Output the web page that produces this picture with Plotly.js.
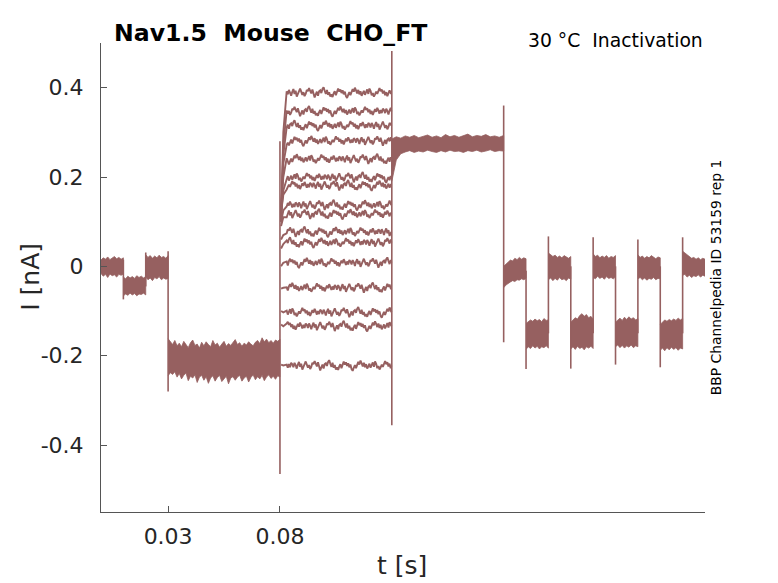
<!DOCTYPE html>
<html>
<head>
<meta charset="utf-8">
<script src="https://cdn.plot.ly/plotly-3.0.1.min.js"></script>
<style>
  html, body { margin: 0; padding: 0; background: #fff; }
  #chart { width: 778px; height: 583px; }
</style>
</head>
<body>
<div id="chart"></div>
<script>
// цвет всех записей
const traceColor = 'rgb(150,96,96)';

// моменты переключения протокола, с, и емкостные выбросы на них, нА
const stepTimes = [0.01, 0.02, 0.03, 0.08, 0.13, 0.18, 0.19, 0.2, 0.21, 0.22, 0.23, 0.24, 0.25, 0.26];
const spikeHi = [0.015, 0.031, 0.034, 0.28, 0.482, 0.36, -0.01, 0.067, 0.0, 0.065, 0.0, 0.06, 0.0, 0.065];
const spikeLo = [-0.074, -0.045, -0.28, -0.465, -0.356, -0.17, -0.23, -0.15, -0.229, -0.15, -0.22, -0.15, -0.226, -0.15];

// участки, где все записи совпадают: начало, конец, верхний и нижний край полосы шума
const holdStart = [0, 0.01, 0.02, 0.03, 0.13, 0.18, 0.19, 0.2, 0.21, 0.22, 0.23, 0.24, 0.25, 0.26];
const holdEnd = [0.01, 0.02, 0.03, 0.08, 0.18, 0.19, 0.2, 0.21, 0.22, 0.23, 0.24, 0.25, 0.26, 0.27];
const holdHi = [
  [0.014, 0.019, 0.016, 0.021, 0.015, 0.018, 0.022, 0.017, 0.02, 0.016, 0.019],
  [-0.024, -0.028, -0.022, -0.026, -0.023, -0.027, -0.021, -0.025, -0.022, -0.026, -0.023],
  [0.026, 0.02, 0.024, 0.018, 0.023, 0.019, 0.025, 0.02, 0.022, 0.018, 0.024],
  [-0.162, -0.17, -0.175, -0.166, -0.178, -0.172, -0.18, -0.168, -0.176, -0.182,
   -0.171, -0.165, -0.177, -0.174, -0.183, -0.17, -0.178, -0.169, -0.175, -0.18,
   -0.166, -0.176, -0.172, -0.181, -0.174, -0.168, -0.179, -0.173, -0.177, -0.17,
   -0.164, -0.175, -0.171, -0.179, -0.172, -0.176, -0.169, -0.174, -0.178, -0.17,
   -0.166, -0.173, -0.16, -0.169, -0.163, -0.171, -0.166, -0.172, -0.165, -0.168, -0.163],
  [0.285, 0.29, 0.287, 0.292, 0.289, 0.293, 0.288, 0.291, 0.294, 0.289, 0.292, 0.288, 0.295,
   0.29, 0.293, 0.289, 0.292, 0.296, 0.29, 0.293, 0.291, 0.295, 0.29, 0.292, 0.289, 0.293],
  [0.0, 0.005, 0.01, 0.014, 0.012, 0.018, 0.015, 0.02, 0.016, 0.019, 0.017],
  [-0.128, -0.124, -0.12, -0.123, -0.118, -0.122, -0.119, -0.124, -0.117, -0.121, -0.12],
  [0.03, 0.026, 0.022, 0.025, 0.02, 0.023, 0.019, 0.024, 0.021, 0.018, 0.022],
  [-0.125, -0.12, -0.115, -0.118, -0.11, -0.106, -0.112, -0.108, -0.115, -0.112, -0.118],
  [0.028, 0.022, 0.025, 0.019, 0.023, 0.02, 0.024, 0.018, 0.022, 0.02, 0.024],
  [-0.125, -0.12, -0.116, -0.121, -0.114, -0.119, -0.113, -0.118, -0.115, -0.12, -0.117],
  [0.026, 0.02, 0.023, 0.018, 0.022, 0.019, 0.024, 0.02, 0.017, 0.021, 0.019],
  [-0.13, -0.124, -0.12, -0.123, -0.119, -0.122, -0.118, -0.121, -0.116, -0.12, -0.117],
  [0.034, 0.03, 0.024, 0.021, 0.018, 0.02, 0.016, 0.019, 0.015, 0.018, 0.016]
];
const holdLo = [
  [-0.016, -0.022, -0.018, -0.025, -0.017, -0.021, -0.019, -0.024, -0.018, -0.02, -0.017],
  [-0.066, -0.062, -0.065, -0.06, -0.064, -0.061, -0.066, -0.062, -0.063, -0.06, -0.064],
  [-0.024, -0.03, -0.026, -0.032, -0.025, -0.028, -0.023, -0.03, -0.026, -0.029, -0.027],
  [-0.245, -0.238, -0.242, -0.236, -0.248, -0.24, -0.252, -0.244, -0.239, -0.256,
   -0.246, -0.25, -0.243, -0.26, -0.248, -0.244, -0.255, -0.247, -0.262, -0.25,
   -0.245, -0.257, -0.249, -0.244, -0.258, -0.251, -0.246, -0.263, -0.25, -0.247,
   -0.255, -0.248, -0.244, -0.257, -0.25, -0.246, -0.259, -0.249, -0.243, -0.254,
   -0.247, -0.252, -0.244, -0.256, -0.248, -0.243, -0.251, -0.246, -0.253, -0.245, -0.248],
  [0.19, 0.238, 0.252, 0.256, 0.259, 0.255, 0.258, 0.256, 0.26, 0.257, 0.255, 0.259, 0.256,
   0.26, 0.257, 0.258, 0.255, 0.259, 0.257, 0.26, 0.256, 0.258, 0.261, 0.257, 0.259, 0.258],
  [-0.048, -0.042, -0.038, -0.035, -0.032, -0.034, -0.03, -0.031, -0.028, -0.03, -0.027],
  [-0.186, -0.18, -0.184, -0.178, -0.183, -0.179, -0.185, -0.18, -0.182, -0.178, -0.183],
  [-0.03, -0.026, -0.032, -0.027, -0.031, -0.025, -0.03, -0.028, -0.032, -0.026, -0.029],
  [-0.185, -0.18, -0.186, -0.179, -0.184, -0.181, -0.187, -0.18, -0.183, -0.179, -0.184],
  [-0.025, -0.028, -0.022, -0.027, -0.024, -0.029, -0.023, -0.027, -0.025, -0.028, -0.024],
  [-0.18, -0.176, -0.182, -0.177, -0.183, -0.178, -0.181, -0.176, -0.182, -0.178, -0.18],
  [-0.028, -0.025, -0.03, -0.026, -0.031, -0.027, -0.029, -0.025, -0.03, -0.027, -0.028],
  [-0.188, -0.183, -0.189, -0.182, -0.187, -0.181, -0.186, -0.182, -0.188, -0.183, -0.185],
  [-0.02, -0.018, -0.024, -0.02, -0.025, -0.021, -0.023, -0.019, -0.024, -0.02, -0.022]
];

// тестовый шаг 0.08-0.13 с: уровень каждой записи, значение сразу после шага и на изгибе
const sweepLevel = [0.389, 0.347, 0.315, 0.281, 0.24, 0.199, 0.181, 0.137, 0.117, 0.077, 0.053, 0.008, -0.048, -0.103, -0.134, -0.222];
const sweepOnset = [0.1, 0.1, 0.11, 0.12, 0.13, 0.12, 0.12, 0.1, 0.09, 0.06, 0.04, 0.0, -0.05, -0.1, -0.13, -0.22];
const sweepKnee = [0.3, 0.27, 0.25, 0.23, 0.2, 0.17, 0.16, 0.125, 0.11, 0.07, 0.05, 0.008, -0.048, -0.103, -0.134, -0.222];
// шум записи (отсчеты через 0.5 мс)
const sweepNoise = [
  0.003, -0.004, 0.006, 0.001, -0.007, 0.002, 0.008, -0.003, 0.004, -0.009,
  -0.002, 0.005, 0.009, 0.002, -0.005, 0.001, -0.008, -0.003, 0.006, 0.003,
  0.01, 0.004, -0.002, 0.007, -0.006, -0.011, -0.004, 0.002, -0.007, 0.003,
  0.005, -0.001, 0.008, 0.012, 0.004, -0.003, 0.006, -0.005, 0.001, -0.009,
  -0.004, -0.01, -0.002, 0.003, -0.006, 0.004, 0.009, 0.002, 0.007, -0.001,
  0.005, -0.004, 0.002, -0.008, -0.012, -0.005, 0.001, -0.006, 0.003, 0.008,
  0.002, 0.011, 0.005, -0.002, 0.006, -0.004, 0.003, -0.007, -0.002, 0.004,
  -0.005, 0.001, 0.007, -0.003, 0.009, 0.004, -0.006, -0.001, -0.009, -0.004,
  0.002, -0.003, 0.006, 0.01, 0.003, 0.007, -0.002, 0.004, -0.006, 0.001,
  -0.008, -0.003, 0.005, -0.001, 0.008, 0.002, -0.005, 0.003, -0.004, 0.006
];

// подписи осей
const xTicks = [0.03, 0.08];
const xTickText = ['0.03', '0.08'];
const yTicks = [-0.4, -0.2, 0, 0.2, 0.4];
const yTickText = ['-0.4', '-0.2', '0', '0.2', '0.4'];

const data = [];

// полосы шума на участках удержания
holdStart.forEach((start, i) => {
  const hi = holdHi[i];
  const lo = holdLo[i];
  const n = hi.length;
  const t = hi.map((v, k) => start + (k * (holdEnd[i] - start)) / (n - 1));
  data.push({
    x: t.concat(t.slice().reverse()),
    y: hi.concat(lo.slice().reverse()),
    type: 'scatter',
    mode: 'lines',
    fill: 'toself',
    fillcolor: traceColor,
    line: { color: traceColor, width: 0.8 },
    hoverinfo: 'skip',
  });
});

// записи на тестовом шаге
sweepLevel.forEach((level, i) => {
  const x = [0.0805, 0.0815];
  const y = [sweepOnset[i], sweepKnee[i]];
  for (let k = 0; k < 94; k++) {
    x.push(0.083 + k * 0.0005);
    y.push(level + sweepNoise[(k + 13 * i) % sweepNoise.length]);
  }
  x.push(0.1298);
  y.push(level);
  data.push({
    x,
    y,
    type: 'scatter',
    mode: 'lines',
    line: { color: traceColor, width: 1.9 },
    hoverinfo: 'skip',
  });
});

// выбросы на переключениях
const sx = [];
const sy = [];
stepTimes.forEach((t, i) => {
  sx.push(t, t, null);
  sy.push(spikeHi[i], spikeLo[i], null);
});
data.push({
  x: sx,
  y: sy,
  type: 'scatter',
  mode: 'lines',
  line: { color: traceColor, width: 1.6 },
  hoverinfo: 'skip',
});

const axisColor = '#555555';
const tickFont = { family: 'DejaVu Sans, sans-serif', size: 22, color: '#262626' };

const layout = {
  width: 778,
  height: 583,
  margin: { l: 101, r: 73, t: 43, b: 71, pad: 0 },
  paper_bgcolor: '#ffffff',
  plot_bgcolor: '#ffffff',
  showlegend: false,
  xaxis: {
    range: [0, 0.27],
    showgrid: false,
    zeroline: false,
    showline: true,
    linecolor: axisColor,
    linewidth: 1,
    ticks: 'inside',
    ticklen: 6,
    tickcolor: axisColor,
    tickvals: xTicks,
    ticktext: xTickText,
    tickfont: tickFont,
    ticklabelstandoff: 5,
  },
  yaxis: {
    range: [-0.55, 0.5],
    showgrid: false,
    zeroline: false,
    showline: true,
    linecolor: axisColor,
    linewidth: 1,
    ticks: 'inside',
    ticklen: 6,
    tickcolor: axisColor,
    tickvals: yTicks,
    ticktext: yTickText,
    tickfont: tickFont,
    ticklabelstandoff: 12,
  },
  annotations: [
    {
      text: '<b>Nav1.5  Mouse  CHO_FT</b>',
      xref: 'paper', yref: 'paper', x: 0.018, y: 1,
      xanchor: 'left', yanchor: 'bottom', yshift: -6,
      showarrow: false,
      font: { family: 'DejaVu Sans, sans-serif', size: 23.6, color: '#000' },
    },
    {
      text: '30 °C  Inactivation',
      xref: 'paper', yref: 'paper', x: 1.0, y: 1,
      xanchor: 'right', yanchor: 'bottom', yshift: -10,
      showarrow: false,
      font: { family: 'DejaVu Sans, sans-serif', size: 18.8, color: '#000' },
    },
    {
      text: 'BBP Channelpedia ID 53159 rep 1',
      xref: 'paper', yref: 'paper', x: 1.018, y: 0.5,
      xanchor: 'center', yanchor: 'middle', textangle: -90,
      showarrow: false,
      font: { family: 'DejaVu Sans, sans-serif', size: 13.9, color: '#000' },
    },
    {
      text: 't [s]',
      xref: 'paper', yref: 'paper', x: 0.499, y: -0.115,
      xanchor: 'center', yanchor: 'middle',
      showarrow: false,
      font: { family: 'DejaVu Sans, sans-serif', size: 25, color: '#262626' },
    },
    {
      text: 'I [nA]',
      xref: 'paper', yref: 'paper', x: -0.118, y: 0.501,
      xanchor: 'center', yanchor: 'middle', textangle: -90,
      showarrow: false,
      font: { family: 'DejaVu Sans, sans-serif', size: 25, color: '#262626' },
    },
  ],
};

Plotly.newPlot('chart', data, layout, { staticPlot: true, displayModeBar: false });
</script>
</body>
</html>
